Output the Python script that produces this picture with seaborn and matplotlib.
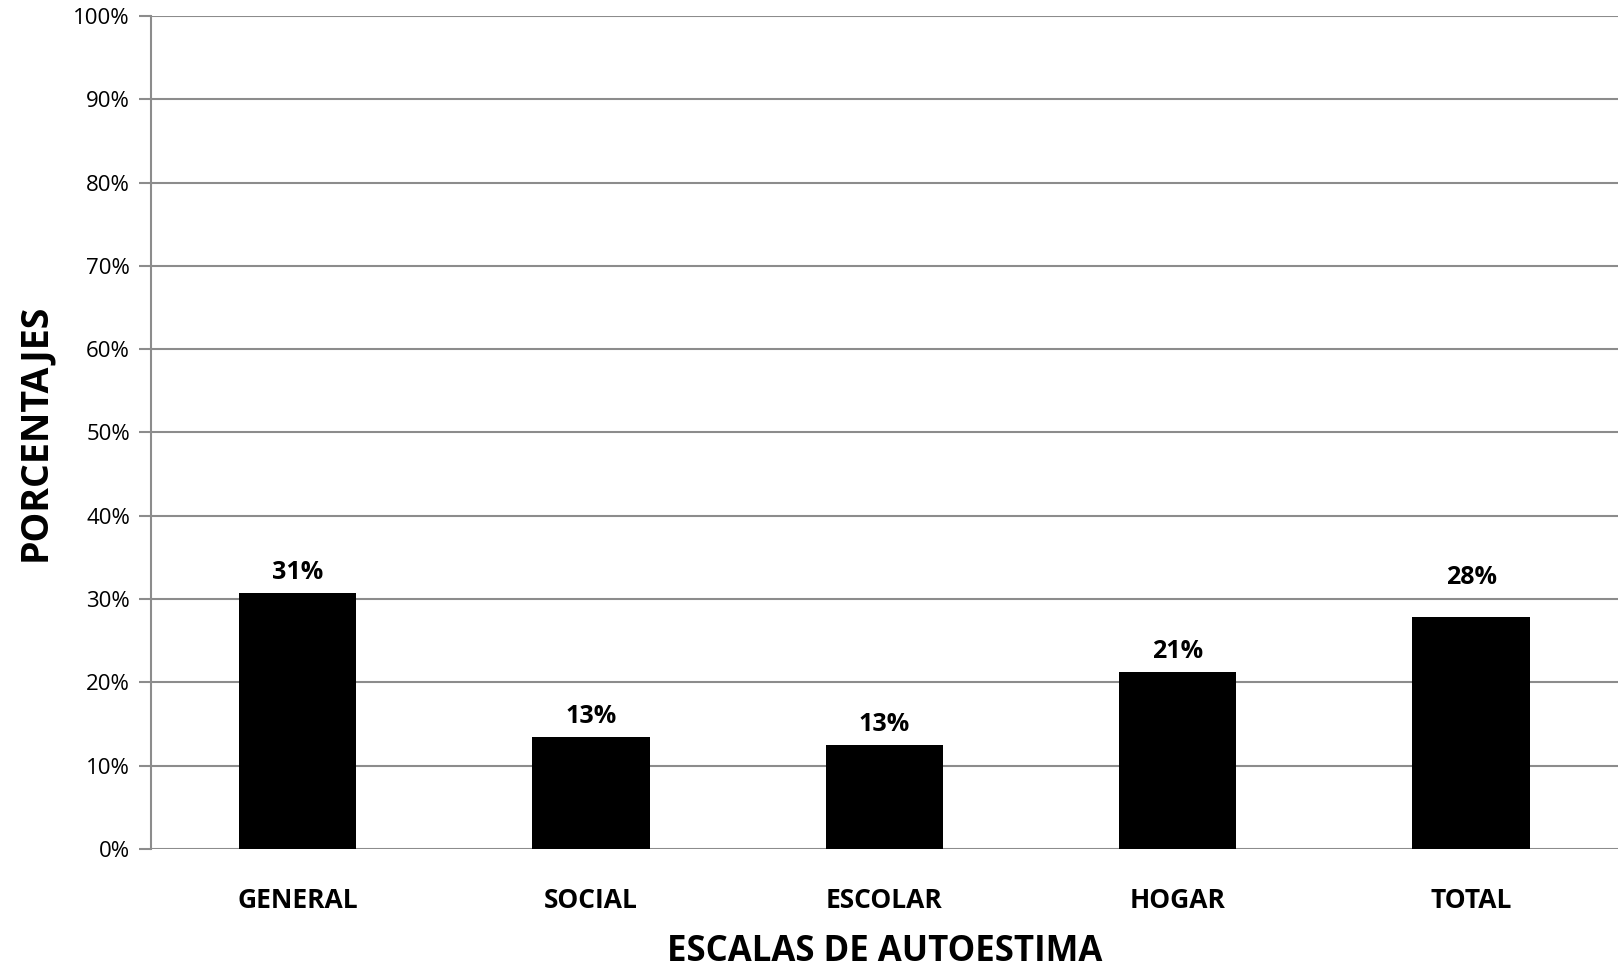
import matplotlib.pyplot as plt
import pandas as pd
import seaborn as sns

escalas = ["GENERAL", "SOCIAL", "ESCOLAR", "HOGAR", "TOTAL"]
porcentajes = [30.7, 13.4, 12.5, 21.2, 27.9]
etiquetas = ["31%", "13%", "13%", "21%", "28%"]
y_ticks = [0, 10, 20, 30, 40, 50, 60, 70, 80, 90, 100]

df = pd.DataFrame({"escala": escalas, "porcentaje": porcentajes})

sns.set_style("white")
plt.rcParams["font.family"] = ["Open Sans", "DejaVu Sans"]
plt.rcParams["text.color"] = "black"
plt.rcParams["axes.labelcolor"] = "black"
plt.rcParams["xtick.labelcolor"] = "black"
plt.rcParams["ytick.labelcolor"] = "black"

fig = plt.figure(figsize=(16.21, 9.73), dpi=100)
ax = fig.add_axes([0.093, 0.1274, 0.905, 0.8562])

sns.barplot(data=df, x="escala", y="porcentaje", color="black",
            saturation=1, width=0.4, linewidth=0, ax=ax)

# etiquetas de valor sobre cada barra (la de TOTAL va algo más arriba)
desplaz = [6, 6, 6, 6, 19]
for patch, txt, dy in zip(ax.patches, etiquetas, desplaz):
    ax.annotate(txt, (patch.get_x() + patch.get_width() / 2, patch.get_height()),
                xytext=(0, dy), textcoords="offset points", ha="center", va="bottom",
                fontsize=18, fontweight="bold", color="black")

ax.set_ylim(0, 100)
ax.set_xlim(-0.5, len(escalas) - 0.5)
ax.set_yticks(y_ticks)
ax.set_yticklabels([f"{t}%" for t in y_ticks], fontsize=16)
ax.yaxis.grid(True, color="#8c8c8c", linewidth=1.5)
ax.set_axisbelow(True)

for side in ["top", "right", "bottom"]:
    ax.spines[side].set_visible(False)
ax.spines["left"].set_color("#8c8c8c")
ax.spines["left"].set_linewidth(1.5)
ax.tick_params(axis="y", length=9, width=1.5, color="#8c8c8c", pad=6, left=True)
ax.tick_params(axis="x", length=0, pad=27)

for lbl in ax.get_xticklabels():
    lbl.set_fontsize(19)
    lbl.set_fontweight("bold")

ax.set_xlabel("ESCALAS DE AUTOESTIMA", fontsize=25, fontweight="bold", labelpad=15)
ax.set_ylabel("PORCENTAJES", fontsize=27, fontweight="bold", labelpad=14)

plt.savefig("out.png", dpi=100)
